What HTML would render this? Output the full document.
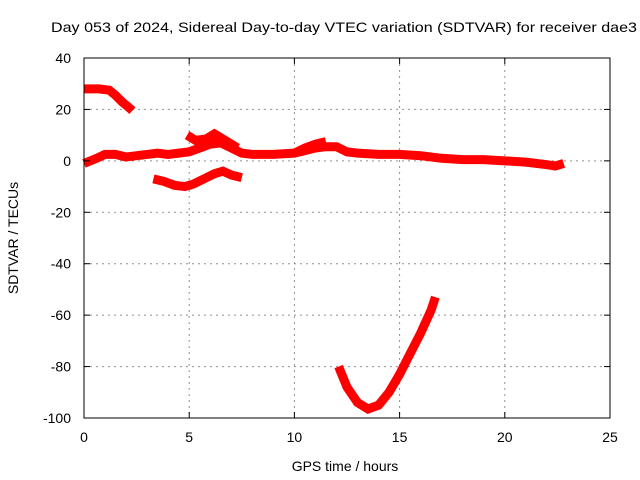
<!DOCTYPE html>
<html><head><meta charset="utf-8"><style>
body{margin:0;background:#fff}
svg{display:block;font-family:"Liberation Sans",sans-serif}
</style></head><body>
<svg id="chart" width="640" height="480">
<g id="grid"></g>
<g id="series"></g>
<rect x="84" y="58" width="526" height="360" fill="none" stroke="#000" stroke-width="1"/>
<g id="ticks"></g>
<text x="51" y="32" font-size="14" textLength="586" lengthAdjust="spacingAndGlyphs">Day 053 of 2024, Sidereal Day-to-day VTEC variation (SDTVAR) for receiver dae3</text>
<text x="345" y="471" font-size="14" text-anchor="middle">GPS time / hours</text>
<text transform="translate(18,238) rotate(-90)" font-size="14" text-anchor="middle">SDTVAR / TECUs</text>
</svg>
<script>
const xTicks=[0,5,10,15,20,25];
const yTicks=[40,20,0,-20,-40,-60,-80,-100];
const s1T=[0,0.3,0.7,1.2,1.5,1.8,2.1,2.3];
const s1V=[28,28,28,27.5,25.5,23,21,19.5];
const s2T=[0,0.3,0.6,1,1.5,2,2.5,3,3.5,4,4.5,5,5.5,6,6.5,7,7.5,8,9,10,10.5,11,11.5,12,12.5,13,14,15,16,17,18,19,20,21,22,22.4,22.8];
const s2V=[-1,0,1,2.5,2.5,1.5,2,2.5,3,2.5,3,3.5,5,6.5,7,5,3,2.5,2.5,3,4,5,5.5,5.5,3.5,3,2.5,2.5,2,1,0.5,0.5,0,-0.5,-1.5,-2,-1];
const s3T=[4.9,5.3,5.8,6.2,6.5,6.9,7.3];
const s3V=[10,8,8.5,10.5,9,7,5];
const s4T=[10,10.5,11,11.5];
const s4V=[3,5,6.5,7.5];
const s5T=[3.3,3.8,4.3,4.8,5.2,5.7,6.2,6.6,7,7.5];
const s5V=[-7,-8,-9.5,-10,-9,-7,-5,-4,-5.5,-6.5];
const s6T=[12.1,12.5,13,13.5,14,14.5,15,15.5,16,16.5,16.7];
const s6V=[-80,-88,-94,-96.5,-95,-90,-83,-75,-67,-58,-53];
const NS="http://www.w3.org/2000/svg";
const X=t=>84+t*526/25;
const Y=v=>58+(40-v)*360/140;
const grid=document.getElementById('grid'),ticks=document.getElementById('ticks'),ser=document.getElementById('series');
function mk(tag,attrs,parent){const e=document.createElementNS(NS,tag);for(const k in attrs)e.setAttribute(k,attrs[k]);parent.appendChild(e);return e;}
xTicks.forEach(t=>{
 if(t>0&&t<25){const g=mk('line',{x1:X(t),x2:X(t),y1:58,y2:418,stroke:'#909090','stroke-dasharray':'2,4'},grid);
 
 }
 const l=mk('text',{x:X(t),y:442,'font-size':14,'text-anchor':'middle'},ticks);l.textContent=t;
 
 
 mk('line',{x1:X(t),x2:X(t),y1:418,y2:412,stroke:'#000'},ticks);
 mk('line',{x1:X(t),x2:X(t),y1:58,y2:64,stroke:'#000'},ticks);
});
yTicks.forEach(v=>{
 if(v<40&&v>-100){const g=mk('line',{x1:84,x2:610,y1:Y(v),y2:Y(v),stroke:'#909090','stroke-dasharray':'2,4'},grid);
 
 }
 const l=mk('text',{x:71,y:Y(v)+5,'font-size':14,'text-anchor':'end'},ticks);l.textContent=v;
 
 
 mk('line',{x1:84,x2:90,y1:Y(v),y2:Y(v),stroke:'#000'},ticks);
 mk('line',{x1:604,x2:610,y1:Y(v),y2:Y(v),stroke:'#000'},ticks);
});
function draw(T,V,name){
 const g=mk('g',{},ser);
 
 
 const pts=T.map((t,i)=>X(t)+','+Y(V[i])).join(' ');
 mk('polyline',{points:pts,fill:'none',stroke:'#f00','stroke-width':9,'stroke-linejoin':'miter','stroke-linecap':'butt'},g);
}
draw(s1T,s1V,'series-upper-arc');
draw(s2T,s2V,'series-main');
draw(s3T,s3V,'series-branch-6h');
draw(s4T,s4V,'series-branch-11h');
draw(s5T,s5V,'series-lower-dip');
draw(s6T,s6V,'series-deep-dip');
</script>
</body></html>
